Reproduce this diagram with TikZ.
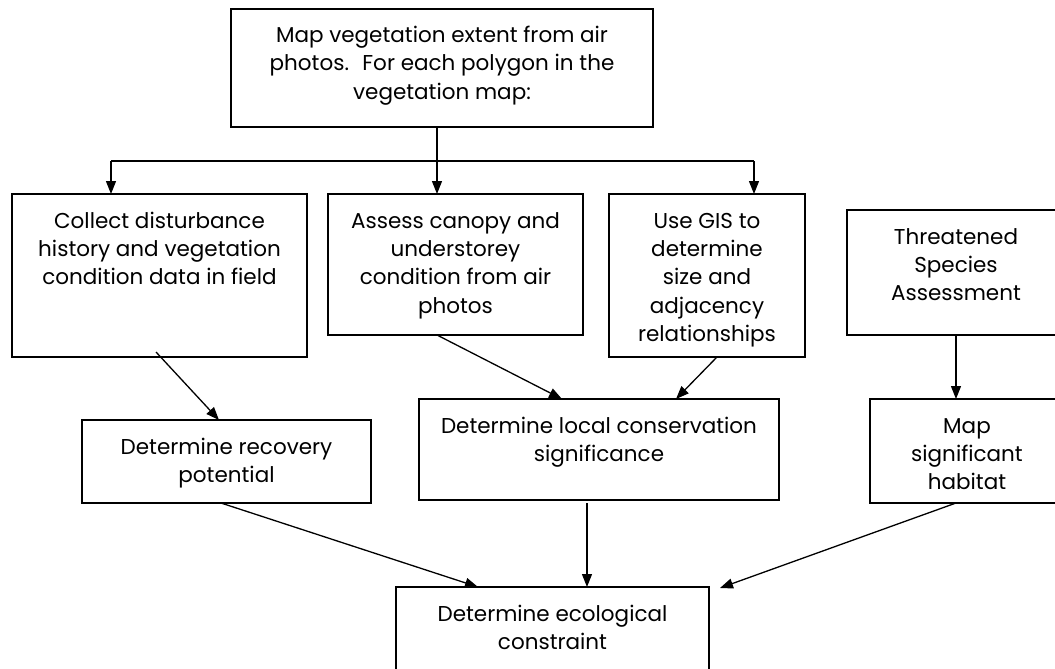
\documentclass[tikz,border=0pt]{standalone}
\usepackage{fontspec}
\setmainfont{Poppins}
\usetikzlibrary{arrows.meta}
\tikzset{
  box/.style={draw, line width=1.7pt, inner sep=0pt, outer sep=0pt},
  txt/.style={anchor=north, align=center, inner sep=0pt, font=\fontsize{21.5}{28.4}\selectfont},
  conn/.style={line width=1.3pt},
  arr/.style={line width=1.3pt, -{Triangle[length=13pt,width=10pt]}}
}
\begin{document}
\begin{tikzpicture}[x=1pt,y=-1pt]
\useasboundingbox (0,0) rectangle (1055,669);
\clip (0,0) rectangle (1055,669);
\fill[white] (0,0) rectangle (1055,669);
% boxes
\node[box, minimum width=422, minimum height=118] (top) at (442,68) {};
\node[box, minimum width=295, minimum height=163] (A) at (159.5,275.5) {};
\node[box, minimum width=255, minimum height=141] (B) at (455.5,264.5) {};
\node[box, minimum width=196, minimum height=163] (C) at (707,275.5) {};
\node[box, minimum width=218, minimum height=125] (D) at (956,272.5) {};
\node[box, minimum width=289, minimum height=83] (E) at (226.5,461.5) {};
\node[box, minimum width=360, minimum height=101] (F) at (599,449.5) {};
\node[box, minimum width=194, minimum height=104] (M) at (967,451) {};
\node[box, minimum width=313, minimum height=113] (G) at (552.5,643.5) {};
% texts
\node[txt] (ttop) at ([yshift=-13.5]top.north) {\strut Map vegetation extent from air\\photos.~ For each polygon in the\\vegetation map:};
\node[txt] (tA) at ([yshift=-14]A.north) {\strut Collect disturbance\\history and vegetation\\condition data in field};
\node[txt] (tB) at ([yshift=-14]B.north) {\strut Assess canopy and\\understorey\\condition from air\\photos};
\node[txt] (tC) at ([yshift=-14]C.north) {\strut Use GIS to\\determine\\size and\\adjacency\\relationships};
\node[txt] (tD) at ([yshift=-14]D.north) {\strut Threatened\\Species\\Assessment};
\node[txt] (tE) at ([yshift=-14]E.north) {\strut Determine recovery\\potential};
\node[txt] (tF) at ([yshift=-14]F.north) {\strut Determine local conservation\\significance};
\node[txt] (tM) at ([yshift=-14]M.north) {\strut Map\\significant\\habitat};
\node[txt] (tG) at ([yshift=-14]G.north) {\strut Determine ecological\\constraint};
% connectors
\draw[conn] ([xshift=-5]top.south) -- ++(0,34) coordinate (j);
\draw[conn] ([xshift=-48.5]A.north |- j) -- ([xshift=47]C.north |- j);
\draw[arr] ([xshift=-48.5]A.north |- j) -- ([xshift=-48.5]A.north);
\draw[arr] (j) -- (j |- B.north);
\draw[arr] ([xshift=47]C.north |- j) -- ([xshift=47]C.north);
\draw[arr] ([xshift=-3.5,yshift=5]A.south) -- ([xshift=-7.5]E.north);
\draw[arr] ([xshift=-18.5]B.south) -- ([xshift=-37]F.north);
\draw[arr] ([xshift=10]C.south) -- ([xshift=77]F.north);
\draw[arr] (D.south) -- (D.south |- M.north);
\draw[arr] ([xshift=-5.5]E.south) -- ([xshift=-74.5]G.north);
\draw[arr] ([xshift=-12,yshift=-3]F.south) -- ([xshift=-12]F.south |- G.north);
\draw[arr] ([xshift=-11]M.south) -- ([xshift=167.5,yshift=-1]G.north);
\end{tikzpicture}
\end{document}
